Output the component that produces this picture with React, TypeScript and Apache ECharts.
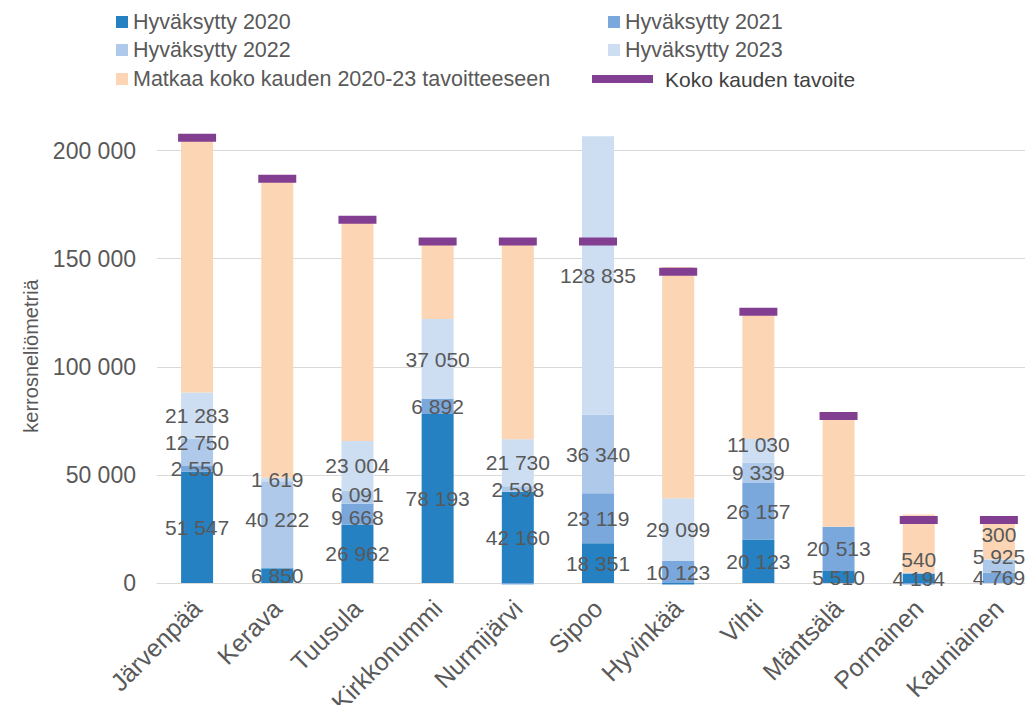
import React, { useEffect, useRef } from "react";
import * as echarts from "echarts";

const CATEGORIES = ["Järvenpää", "Kerava", "Tuusula", "Kirkkonummi", "Nurmijärvi", "Sipoo", "Hyvinkää", "Vihti", "Mäntsälä", "Pornainen", "Kauniainen"];
const Y2020 = [51547, 6850, 26962, 78193, 42160, 18351, -700, 20123, 5510, 4194, null];
const Y2021 = [2550, null, 9668, 6892, -700, 23119, 10123, 26157, 20513, -700, 4769];
const Y2022 = [12750, 40222, 6091, null, 2598, 36340, null, 9339, null, 540, 5925];
const Y2023 = [21283, 1619, 23004, 37050, 21730, 128835, 29099, 11030, null, null, 300];
const MATKAA = [117870, 138309, 102275, 35865, 91512, null, 107000, 58851, 51277, 26900, 18106];
const TAVOITE = [206000, 187000, 168000, 158000, 158000, 158000, 144000, 125500, 77300, 29100, 29100];
const Y_TICKS = [0, 50000, 100000, 150000, 200000];

const SERIES_NAMES = ["Hyväksytty 2020", "Hyväksytty 2021", "Hyväksytty 2022", "Hyväksytty 2023", "Matkaa koko kauden 2020-23 tavoitteeseen"];
const TARGET_NAME = "Koko kauden tavoite";
const COLORS = ["#2581c1", "#7aa8dc", "#aec9ea", "#cddef2", "#fcd5b4"];
const TARGET_COLOR = "#823f92";
const FONT = "'Liberation Sans', Arial, sans-serif";
const GREY = "#595959";

// label nudges (px, vertical) keyed by "seriesIndex|categoryIndex"
const LABEL_NUDGE: Record<string, number> = {
  "2|0": -10,
  "2|1": -5,
  "3|7": -6,
  "2|9": -14,
  "2|10": -10,
  "3|10": -25,
  "1|2": 3,
  "2|2": -3,
};

const fmt = (v: number) => String(v).replace(/\B(?=(\d{3})+(?!\d))/g, " ");

export default function App() {
  const ref = useRef<HTMLDivElement>(null);
  useEffect(() => {
    if (!ref.current) return;
    const chart = echarts.init(ref.current, null, { renderer: "svg" });
    const valueSets = [Y2020, Y2021, Y2022, Y2023];
    const barSeries: any[] = valueSets.map((arr, si) => ({
      name: SERIES_NAMES[si],
      type: "bar",
      stack: "total",
      barWidth: 32,
      clip: false,
      itemStyle: { color: COLORS[si] },
      label: {
        show: true,
        position: "inside",
        color: GREY,
        fontSize: 21,
        fontFamily: FONT,
        textBorderWidth: 0,
        formatter: (p: any) => fmt(p.value),
      },
      data: arr.map((v, ci) => {
        if (v === null) return null;
        const item: any = { value: v };
        if (v < 0) item.label = { show: false };
        const nudge = LABEL_NUDGE[si + "|" + ci];
        if (nudge) item.label = { offset: [0, nudge] };
        return item;
      }),
    }));
    barSeries.push({
      name: SERIES_NAMES[4],
      type: "bar",
      stack: "total",
      barWidth: 32,
      itemStyle: { color: COLORS[4] },
      data: MATKAA,
    });
    const targetSeries = {
      name: TARGET_NAME,
      type: "scatter",
      symbol: "rect",
      symbolSize: [38, 8],
      itemStyle: { color: TARGET_COLOR, opacity: 1 },
      z: 5,
      data: TAVOITE,
    };

    const legendBase = {
      orient: "horizontal",
      padding: 0,
      itemWidth: 12,
      itemHeight: 12,
      icon: "rect",
      textStyle: { color: GREY, fontSize: 21.5, fontFamily: FONT, lineHeight: 24 },
    };
    const legendPos = [
      [116, 10],
      [608, 10],
      [116, 38],
      [608, 38],
      [116, 67],
    ];
    const legends: any[] = SERIES_NAMES.map((n, i) => ({
      ...legendBase,
      data: [n],
      left: legendPos[i][0],
      top: legendPos[i][1],
    }));
    legends.push({
      ...legendBase,
      data: [TARGET_NAME],
      left: 592,
      top: 67,
      itemWidth: 61,
      itemHeight: 8,
      textStyle: { color: "#404040", fontSize: 21, fontFamily: FONT, lineHeight: 24, padding: [0, 0, 0, 7] },
    });

    chart.setOption({
      animation: false,
      backgroundColor: "#ffffff",
      textStyle: { fontFamily: FONT },
      legend: legends,
      grid: { left: 157, right: -14, top: 129, bottom: 122, containLabel: false, outerBoundsMode: "none" },
      xAxis: {
        type: "category",
        data: CATEGORIES,
        axisTick: { show: false },
        axisLine: { lineStyle: { color: "#d9d9d9", width: 1 } },
        axisLabel: { interval: 0, rotate: 45, margin: 21, color: GREY, fontSize: 25, fontFamily: FONT },
      },
      yAxis: {
        type: "value",
        min: 0,
        max: 210000,
        interval: 50000,
        name: "kerrosneliömetriä",
        nameLocation: "middle",
        nameGap: 116,
        nameTextStyle: { color: GREY, fontSize: 20, fontFamily: FONT },
        axisLine: { show: false },
        axisTick: { show: false },
        axisLabel: {
          margin: 21,
          color: GREY,
          fontSize: 23,
          fontFamily: FONT,
          showMaxLabel: false,
          formatter: (v: number) => (Y_TICKS.includes(v) ? fmt(v) : ""),
        },
        splitLine: { show: true, showMaxLine: false, lineStyle: { color: "#d9d9d9", width: 1 } },
      },
      series: [...barSeries, targetSeries],
    });
    return () => chart.dispose();
  }, []);
  return <div ref={ref} style={{ position: "fixed", left: 0, top: 0, width: 1025, height: 705 }} />;
}
